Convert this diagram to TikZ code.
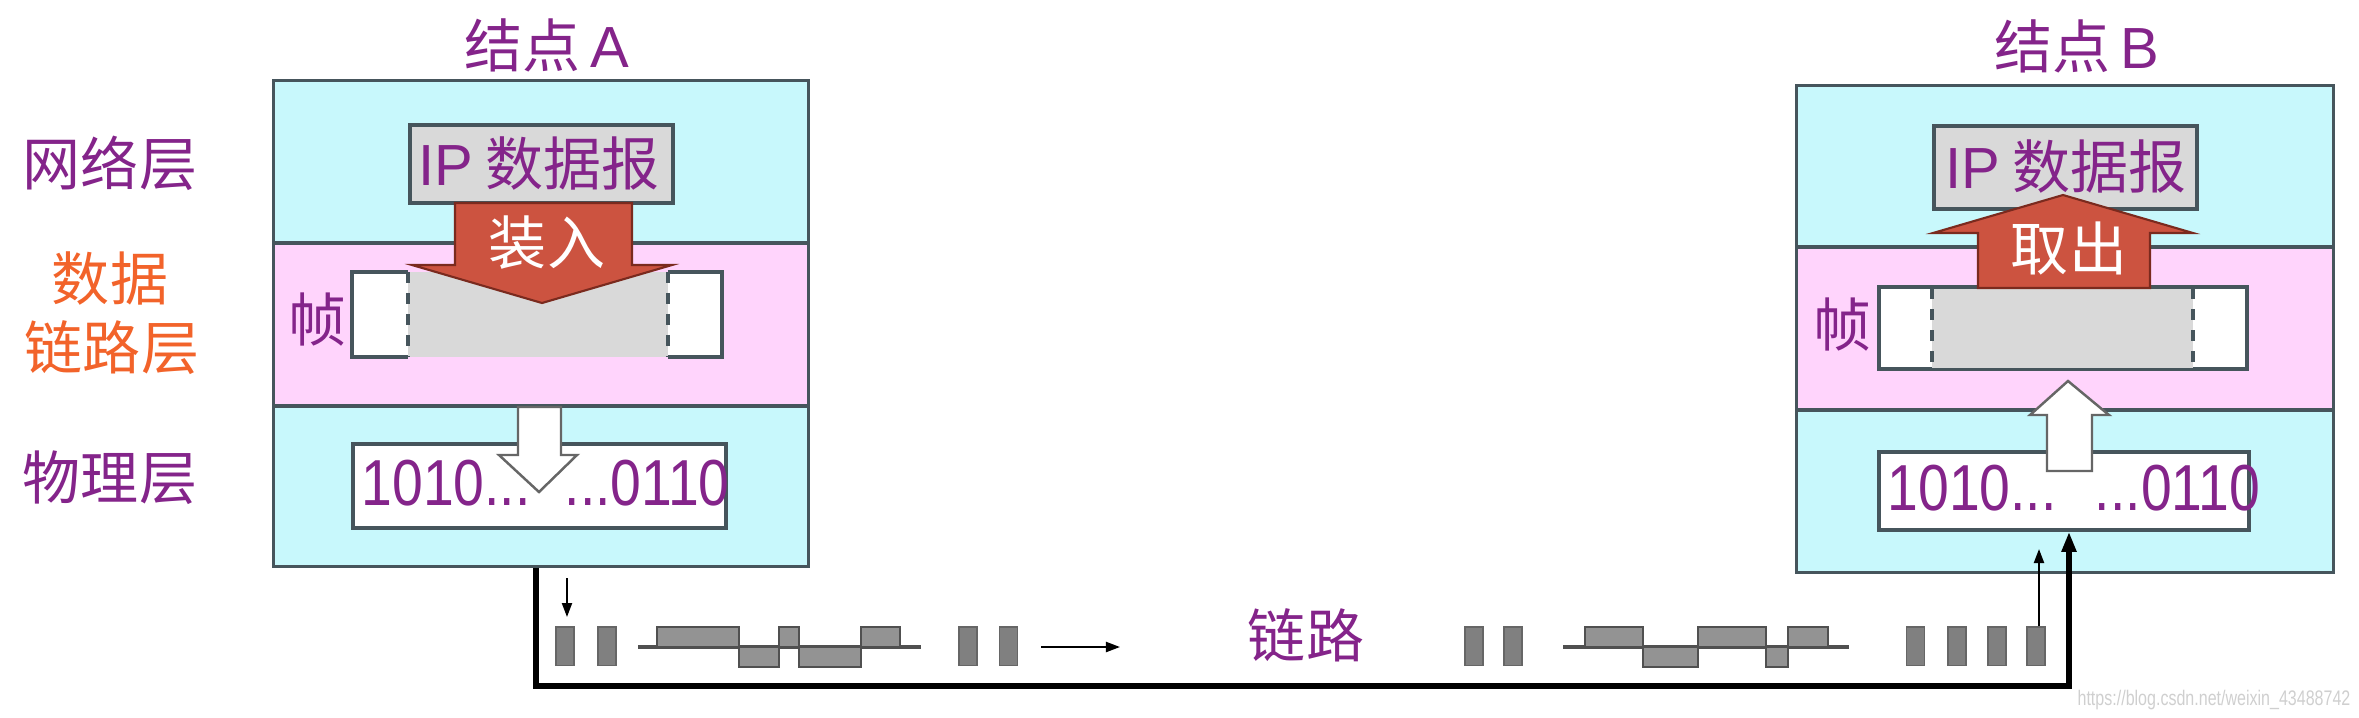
\documentclass[tikz,border=0pt]{standalone}
\usepackage{fontspec}
\setmainfont{Liberation Sans}
\newfontfamily\cjk{Noto Sans CJK SC}
\usetikzlibrary{arrows.meta}
\definecolor{cyanL}{HTML}{C8F8FC}
\definecolor{pinkL}{HTML}{FFD4FC}
\definecolor{edgeC}{HTML}{46555C}
\definecolor{grayF}{HTML}{D9D9D9}
\definecolor{redA}{HTML}{CC5340}
\definecolor{redE}{HTML}{7A2A1E}
\definecolor{purpT}{HTML}{84248A}
\definecolor{orgT}{HTML}{F2632A}
\definecolor{barG}{HTML}{808080}
\definecolor{barE}{HTML}{505050}
\definecolor{wmG}{HTML}{CFCFCF}
\newcommand\fsz{\fontsize{16.5pt}{19pt}\selectfont}
\begin{document}
\begin{tikzpicture}[x=0.01cm,y=-0.01cm,
  lbl/.style={font=\fsz\cjk, text=purpT, inner sep=0pt},
  olbl/.style={font=\fsz\cjk, text=orgT, inner sep=0pt},
  wlbl/.style={font=\fsz\cjk, text=white, inner sep=0pt},
  bits/.style={font=\fontsize{18.5pt}{20pt}\selectfont, text=purpT, inner sep=0pt, anchor=west, xscale=0.85},
  nodebox/.style={draw=edgeC, line width=0.9pt, inner sep=0pt, rectangle},
  ipbox/.style={draw=edgeC, fill=grayF, line width=1.1pt, inner sep=0pt, rectangle},
  whitebox/.style={draw=edgeC, fill=white, line width=1pt, inner sep=0pt, rectangle},
  bigarrow/.style={fill=redA, draw=redE, line width=0.6pt},
  hollow/.style={fill=white, draw=gray!80!black, line width=0.7pt},
  bar/.style={fill=barG, draw=barG!80!black, line width=0.3pt, inner sep=0pt, minimum width=0.18cm, minimum height=0.38cm},
  pulse/.style={fill=barG!85!white, draw=barE, line width=0.8pt},
  base/.style={draw=barE, line width=1pt},
  link/.style={line width=1.7pt, black, -{Triangle[length=0.2cm,width=0.14cm]}},
  thinarrow/.style={line width=0.6pt, black, -{Triangle[length=0.14cm,width=0.1cm]}},
  sep/.style={draw=edgeC, line width=0.9pt}
]
\useasboundingbox (0,0) rectangle (2359,717);

% ---------------- Node A ----------------
\fill[cyanL] (274,81) rectangle (808,243);
\fill[pinkL] (274,243) rectangle (808,406);
\fill[cyanL] (274,406) rectangle (808,566);
\draw[sep] (274,243) -- (808,243);
\draw[sep] (274,406) -- (808,406);
\node[nodebox, minimum width=5.34cm, minimum height=4.85cm] (boxA) at (541,323.5) {};
\node[lbl] (titleA) at (547,45) {结点\,{\fontspec{Liberation Sans}A}};

\node[ipbox, minimum width=2.63cm, minimum height=0.78cm] (ipA) at (541.5,164) {};
\node[lbl] (ipAt) at (539,163) {{\fontspec{Liberation Sans}IP} 数据报};

% frame A
\fill[grayF] (408,272) rectangle (668,357);
\draw[edgeC, fill=white, line width=1pt] (408,272) -- (352,272) -- (352,357) -- (408,357);
\draw[edgeC, fill=white, line width=1pt] (668,272) -- (722,272) -- (722,357) -- (668,357);
\draw[edgeC, dashed, line width=1pt] (408,272) -- (408,357);
\draw[edgeC, dashed, line width=1pt] (668,272) -- (668,357);
\node[lbl] (frA) at (318,320) {帧};

% red arrow A
\draw[bigarrow] (455,203) -- (632,203) -- (632,265) -- (672,265) -- (542,303) -- (412,265) -- (455,265) -- cycle;
\node[wlbl] (inA) at (547,243) {装入};

% physical A
\node[whitebox, minimum width=3.73cm, minimum height=0.84cm] (physA) at (539.5,486) {};
\node[bits] (bitsA) at (361,483) {1010...\hspace{0.4cm}...0110};
\draw[hollow] (518,407) -- (561,407) -- (561,455) -- (577,455) -- (539,492) -- (499,455) -- (518,455) -- cycle;

% ---------------- Node B ----------------
\fill[cyanL] (1797,86) rectangle (2333,247);
\fill[pinkL] (1797,247) rectangle (2333,410);
\fill[cyanL] (1797,410) rectangle (2333,572);
\draw[sep] (1797,247) -- (2333,247);
\draw[sep] (1797,410) -- (2333,410);
\node[nodebox, minimum width=5.36cm, minimum height=4.86cm] (boxB) at (2065,329) {};
\node[lbl] (titleB) at (2077,46) {结点\,{\fontspec{Liberation Sans}B}};

\node[ipbox, minimum width=2.63cm, minimum height=0.83cm] (ipB) at (2065.5,167.5) {};
\node[lbl] (ipBt) at (2066,166) {{\fontspec{Liberation Sans}IP} 数据报};

% frame B
\node[whitebox, minimum width=3.68cm, minimum height=0.82cm] (frameB) at (2063,328) {};
\fill[grayF] (1932,288.5) rectangle (2193,367.5);
\draw[edgeC, dashed, line width=1pt] (1932,288) -- (1932,368);
\draw[edgeC, dashed, line width=1pt] (2193,288) -- (2193,368);
\node[lbl] (frB) at (1842,325) {帧};

% red arrow B
\draw[bigarrow] (1978,288) -- (2150,288) -- (2150,233) -- (2193,233) -- (2063,195) -- (1933,233) -- (1978,233) -- cycle;
\node[wlbl] (outB) at (2069,248) {取出};

% physical B
\node[whitebox, minimum width=3.70cm, minimum height=0.78cm] (physB) at (2064,491) {};
\node[bits] (bitsB) at (1887,488) {1010...\hspace{0.45cm}...0110};
\draw[hollow] (2047,471) -- (2092,471) -- (2092,415) -- (2109,415) -- (2068,381) -- (2030,415) -- (2047,415) -- cycle;

% ---------------- left labels ----------------
\node[lbl] (netL) at (110,163) {网络层};
\node[olbl] (dlL1) at (110,278) {数据};
\node[olbl] (dlL2) at (112,348) {链路层};
\node[lbl] (phL) at (110,478) {物理层};

% ---------------- link ----------------
\node[bar] (bar1) at (565,646) {};
\node[bar] (bar2) at (607,646) {};
\node[bar] (bar3) at (968,646) {};
\node[bar] (bar4) at (1008.5,646) {};
\node[bar] (bar5) at (1474,646) {};
\node[bar] (bar6) at (1513,646) {};
\node[bar] (bar7) at (1915.5,646) {};
\node[bar] (bar8) at (1957,646) {};
\node[bar] (bar9) at (1997,646) {};
\node[bar] (bar10) at (2036,646) {};

% waveform 1
\draw[base] (638,647) -- (921,647);
\draw[pulse] (657,627) rectangle (739,647);
\draw[pulse] (739,647) rectangle (779,667);
\draw[pulse] (779,627) rectangle (799,647);
\draw[pulse] (799,647) rectangle (861,667);
\draw[pulse] (861,627) rectangle (900,647);
% waveform 2
\draw[base] (1563,647) -- (1849,647);
\draw[pulse] (1585,627) rectangle (1643,647);
\draw[pulse] (1643,647) rectangle (1698,667);
\draw[pulse] (1698,627) rectangle (1766,647);
\draw[pulse] (1766,647) rectangle (1788,667);
\draw[pulse] (1788,627) rectangle (1828,647);

\coordinate (mA) at (1041,647);
\coordinate (mB) at (1120,647);
\draw[thinarrow] (mA) -- (mB);
\node[lbl] (linkL) at (1306,635) {链路};

% connectors
\coordinate (lx) at (536,0);
\coordinate (rx) at (2069,0);
\coordinate (lowy) at (0,686);
\draw[line width=1.7pt, line join=miter] (boxA.south -| lx) -- (lx |- lowy) -- (rx |- lowy) -- ([yshift=-0.22cm]physB.south -| rx);
\draw[link] ([yshift=-0.24cm]physB.south -| rx) -- (physB.south -| rx);

\coordinate (tAs) at (567,578);
\draw[thinarrow] (tAs) -- (tAs |- 0,617);
\coordinate (tBe) at (2039,549);
\draw[thinarrow] (bar10.north -| tBe) -- (tBe);

% watermark
\node[font=\fontsize{6pt}{7pt}\selectfont, text=wmG, inner sep=0pt, xscale=0.76] (wm) at (2214,700) {https://blog.csdn.net/weixin\_43488742};
\end{tikzpicture}
\end{document}
